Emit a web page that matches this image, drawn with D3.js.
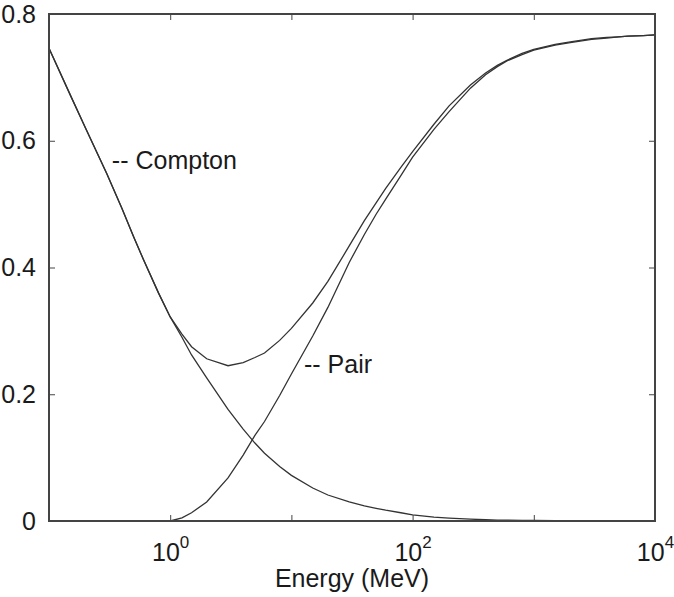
<!DOCTYPE html>
<html>
<head>
<meta charset="utf-8">
<script src="https://cdn.jsdelivr.net/npm/d3@7"></script>
<style>
  body { margin: 0; background: #fff; }
  svg { display: block; font-family: 'Liberation Sans', Arial, sans-serif; }
  .tick line { stroke: #444; }
  .tick text { fill: #1a1a1a; }
</style>
</head>
<body>
<svg id="chart"></svg>
<script>
// energies (MeV) and fractions
const energy = [0.1, 0.15, 0.2, 0.3, 0.4, 0.5, 0.6, 0.8, 1, 1.25, 1.5, 2, 3, 4, 5, 6, 8, 10,
  15, 20, 30, 40, 50, 60, 80, 100, 150, 200, 300, 400, 500, 600, 800, 1000,
  1500, 2000, 3000, 4000, 5000, 6000, 8000, 10000]

const compton = [0.746, 0.672, 0.620, 0.548, 0.493, 0.448, 0.413, 0.360, 0.322, 0.290, 0.262, 0.226,
  0.176, 0.145, 0.123, 0.107, 0.086, 0.072, 0.052, 0.041, 0.030, 0.024, 0.020, 0.017, 0.013,
  0.0095, 0.006, 0.0045, 0.003, 0.002, 0.0015, 0.0012, 0.001, 0.0008, 0.0006, 0.0005, 0.0003,
  0.0003, 0.0002, 0.0002, 0.0001, 0.0001]

const pair = [null, null, null, null, null, null, null, null, 0, 0.005, 0.013, 0.030,
  0.068, 0.104, 0.135, 0.157, 0.198, 0.232, 0.292, 0.337, 0.408, 0.452, 0.484, 0.508, 0.545,
  0.574, 0.618, 0.646, 0.683, 0.704, 0.717, 0.726, 0.736, 0.743, 0.751, 0.755, 0.760,
  0.762, 0.764, 0.765, 0.766, 0.767]

const total = [0.746, 0.672, 0.620, 0.548, 0.493, 0.448, 0.413, 0.360, 0.322, 0.295, 0.275, 0.256,
  0.245, 0.250, 0.258, 0.265, 0.285, 0.304, 0.344, 0.378, 0.434, 0.474, 0.502, 0.525, 0.558,
  0.583, 0.626, 0.655, 0.688, 0.707, 0.719, 0.727, 0.738, 0.744, 0.752, 0.756, 0.761,
  0.763, 0.764, 0.765, 0.766, 0.767]

const xTicks = [0.1, 1, 10, 100, 1000, 10000]
const xLabelled = [1, 100, 10000]
const yTicks = [0, 0.2, 0.4, 0.6, 0.8]

const annotations = [
  { text: '-- Compton', e: 0.33, v: 0.555 },
  { text: '-- Pair', e: 12.7, v: 0.233 }
]

// MARGIN CONVENTION
const totalWidth = 674,
  totalHeight = 597,
  margin = { left: 49, top: 14, right: 19, bottom: 76 },
  width = totalWidth - margin.left - margin.right,
  height = totalHeight - margin.top - margin.bottom

const svg = d3.select('#chart')
  .attr('width', totalWidth)
  .attr('height', totalHeight)

const plot = svg.append('g')
  .attr('transform', `translate(${margin.left}, ${margin.top})`)

// SCALES
const x = d3.scaleLog()
  .domain([0.1, 10000])
  .range([0, width])

const y = d3.scaleLinear()
  .domain([0, 0.8])
  .range([height, 0])

// CURVES
const line = d3.line()
  .defined(d => d[1] !== null)
  .x(d => x(d[0]))
  .y(d => y(d[1]))

const series = [compton, pair, total]
series.forEach(vals => {
  plot.append('path')
    .datum(energy.map((e, i) => [e, vals[i]]))
    .attr('d', line)
    .attr('fill', 'none')
    .attr('stroke', '#333')
    .attr('stroke-width', 1.3)
})

// AXES (ticks point inward, as in the reference)
const fontSize = 25

const xAxis = d3.axisBottom(x)
  .tickValues(xTicks)
  .tickSizeInner(-6)
  .tickSizeOuter(0)
  .tickPadding(12)
  .tickFormat(() => '')
const gx = plot.append('g')
  .attr('transform', `translate(0, ${height})`)
  .call(xAxis)
gx.select('.domain').remove()
gx.selectAll('.tick text').each(function(d) {
  if (!xLabelled.includes(d)) return
  const t = d3.select(this)
    .attr('font-size', fontSize)
    .attr('dy', null)
    .attr('y', 40)
  t.append('tspan').text('10')
  t.append('tspan')
    .attr('font-size', 17)
    .attr('dy', -13)
    .text(Math.round(Math.log10(d)))
})

const xTop = d3.axisTop(x)
  .tickValues(xTicks)
  .tickSizeInner(-6)
  .tickSizeOuter(0)
  .tickFormat('')
const gxt = plot.append('g').call(xTop)
gxt.select('.domain').remove()

const yAxis = d3.axisLeft(y)
  .tickValues(yTicks)
  .tickSizeInner(-6)
  .tickSizeOuter(0)
  .tickPadding(13)
  .tickFormat(d => d === 0 ? '0' : d3.format('.1f')(d))
const gy = plot.append('g').call(yAxis)
gy.select('.domain').remove()
gy.selectAll('.tick text').attr('font-size', fontSize)

const yRight = d3.axisRight(y)
  .tickValues(yTicks)
  .tickSizeInner(-6)
  .tickSizeOuter(0)
  .tickFormat('')
const gyr = plot.append('g')
  .attr('transform', `translate(${width}, 0)`)
  .call(yRight)
gyr.select('.domain').remove()

// FRAME
plot.append('rect')
  .attr('width', width)
  .attr('height', height)
  .attr('fill', 'none')
  .attr('stroke', '#444')
  .attr('stroke-width', 2)

// AXIS TITLE
plot.append('text')
  .attr('x', width / 2)
  .attr('y', height + 66)
  .attr('text-anchor', 'middle')
  .attr('font-size', fontSize)
  .attr('fill', '#1a1a1a')
  .text('Energy (MeV)')

// CURVE LABELS
annotations.forEach(a => {
  plot.append('text')
    .attr('x', x(a.e))
    .attr('y', y(a.v))
    .attr('font-size', fontSize)
    .attr('fill', '#1a1a1a')
    .text(a.text)
})
</script>
</body>
</html>
